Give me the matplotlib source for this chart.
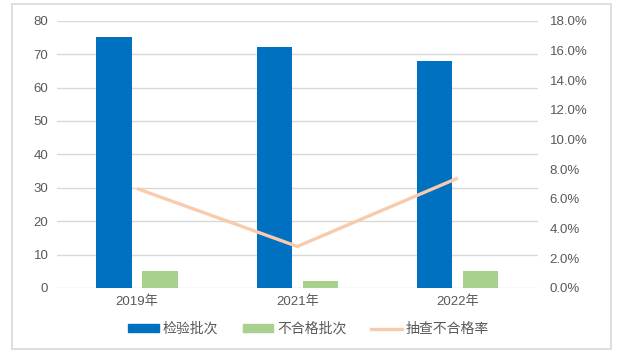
import matplotlib
matplotlib.use("Agg")
import matplotlib.pyplot as plt
import numpy as np
from matplotlib.patches import Patch, Rectangle
from matplotlib.lines import Line2D

plt.rcParams['font.family'] = ['Liberation Sans', 'Noto Sans CJK SC', 'DejaVu Sans']

# data
years = ['2019年', '2021年', '2022年']
batches = [75, 72, 68]          # 检验批次
failed = [5, 2, 5]              # 不合格批次
fail_rate = [6.7, 2.8, 7.4]     # 抽查不合格率 (%)
left_ticks = [0, 10, 20, 30, 40, 50, 60, 70, 80]
right_ticks = [0, 2, 4, 6, 8, 10, 12, 14, 16, 18]

blue = '#0070C0'
green = '#A9D18E'
peach = '#F8CBAD'
grid_c = '#D9D9D9'
text_c = '#595959'

fig = plt.figure(figsize=(6.17, 3.55), dpi=100)
fig.patches.append(Rectangle((12 / 617, 1 - 349 / 355), 599 / 617, 345 / 355,
                             transform=fig.transFigure, fill=False,
                             edgecolor='#D9D9D9', lw=1.2))

ax = fig.add_axes([56.7 / 617, 1 - 288 / 355, (538 - 56.7) / 617, (288 - 20.7) / 355])
x = np.arange(len(years))
w = 0.22
ax.bar(x - 0.143, batches, w, color=blue, zorder=3)
ax.bar(x + 0.143, failed, w, color=green, zorder=3)

ax.set_xlim(-0.5, 2.5)
ax.set_ylim(0, 80)
ax.set_yticks(left_ticks)
ax.set_xticks(x)
ax.set_xticklabels(years)
ax.grid(axis='y', color=grid_c, lw=1, zorder=0)
for s in ax.spines.values():
    s.set_visible(False)
ax.tick_params(axis='both', length=0, colors=text_c, labelsize=9.5)
ax.tick_params(axis='y', pad=6)
ax.tick_params(axis='x', pad=5)

ax2 = ax.twinx()
ax2.plot(x, fail_rate, color=peach, lw=2.4, zorder=4, solid_capstyle='butt')
ax2.set_ylim(0, 18)
ax2.set_yticks(right_ticks)
ax2.set_yticklabels([f'{t:.1f}%' for t in right_ticks])
for s in ax2.spines.values():
    s.set_visible(False)
ax2.tick_params(axis='y', length=0, colors=text_c, labelsize=9.5, pad=8.5)

handles = [Patch(color=blue), Patch(color=green), Line2D([], [], color=peach, lw=2.4)]
labels = ['检验批次', '不合格批次', '抽查不合格率']
fig.legend(handles, labels, loc='center', bbox_to_anchor=(0.5, 1 - 329 / 355),
           ncol=3, frameon=False, fontsize=10, labelcolor=text_c,
           handlelength=2.2, handleheight=0.45, handletextpad=0.25,
           columnspacing=1.8)

fig.savefig('out.png', dpi=100)
